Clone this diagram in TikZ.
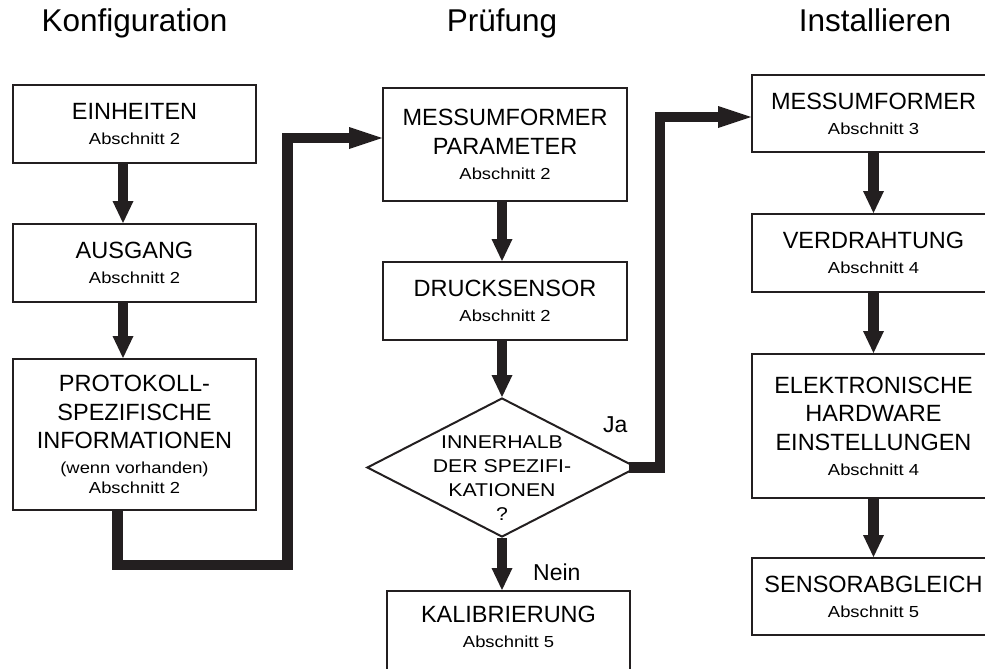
\documentclass[tikz,border=0pt]{standalone}
\usepackage{fontspec}
\setmainfont{Liberation Sans}
\newfontfamily\widesans[FakeStretch=1.15]{Liberation Sans}
\usetikzlibrary{arrows.meta,shapes.geometric}
\definecolor{ink}{HTML}{231F20}
\newcommand\subtxt{\widesans\fontsize{16}{20}\selectfont}
\begin{document}
\begin{tikzpicture}[x=1pt,y=-1pt,
  box/.style={draw=ink, line width=2pt, minimum width=243pt, inner sep=0pt, align=center,
    font=\fontsize{23.5}{28.5}\selectfont, text=black},
  txt/.style={inner sep=0pt, align=center, font=\fontsize{23.5}{28.5}\selectfont, text=black},
  flow/.style={draw=ink, line width=10.5pt},
  varrow/.style={flow, -{Triangle[length=22pt,width=21pt,line width=0pt]}},
  harrow/.style={flow, -{Triangle[length=33pt,width=22pt,line width=0pt]}},
  head/.style={font=\fontsize{31.5}{36}\selectfont, anchor=base, inner sep=0pt},
  lab/.style={font=\fontsize{23}{27}\selectfont, anchor=base west, inner sep=0pt}]
\useasboundingbox (0,0) rectangle (985,669);
% headers
\node[head] (h1) at (134.5,32) {Konfiguration};
\node[head] (h2) at (502,32) {Prüfung};
\node[head] (h3) at (875,32) {Installieren};
% left column
\node[box, minimum height=78pt] (E1) at (134.5,124) {EINHEITEN\\[-3.5pt]{\subtxt Abschnitt 2}};
\node[box, minimum height=78pt] (E2) at (134.5,263) {AUSGANG\\[-3.5pt]{\subtxt Abschnitt 2}};
\node[box, minimum height=151pt] (E3) at (134.5,434.5) {PROTOKOLL-\\SPEZIFISCHE\\INFORMATIONEN\\[-3.5pt]{\subtxt (wenn vorhanden)}\\[-8.5pt]{\subtxt Abschnitt 2}};
% middle column
\node[box, minimum width=244pt, minimum height=113pt] (P1) at (505,144.5) {MESSUMFORMER\\PARAMETER\\[-3.5pt]{\subtxt Abschnitt 2}};
\node[box, minimum width=244pt, minimum height=78pt] (P2) at (505,301) {DRUCKSENSOR\\[-3.5pt]{\subtxt Abschnitt 2}};
\node[draw=ink, line width=2pt, diamond, minimum width=270pt, minimum height=139pt, inner sep=0pt] (D) at (502,467.5) {};
\node[inner sep=0pt, align=center, font=\widesans\fontsize{18.5}{24}\selectfont] (DT) at (502,478) {INNERHALB\\DER SPEZIFI-\\KATIONEN\\?};
\node[box, minimum height=92pt, anchor=north] (K) at (508.5,590) {};
\node[txt] (KT) at (508.5,627) {KALIBRIERUNG\\[-3.5pt]{\subtxt Abschnitt 5}};
% right column
\node[box, minimum height=77pt] (I1) at (873.5,113.5) {MESSUMFORMER\\[-3.5pt]{\subtxt Abschnitt 3}};
\node[box, minimum height=78pt] (I2) at (873.5,253) {VERDRAHTUNG\\[-3.5pt]{\subtxt Abschnitt 4}};
\node[box, minimum height=144pt] (I3) at (873.5,426) {ELEKTRONISCHE\\HARDWARE\\EINSTELLUNGEN\\[-3.5pt]{\subtxt Abschnitt 4}};
\node[box, minimum height=77pt] (I4) at (873.5,596.5) {SENSORABGLEICH\\[-3.5pt]{\subtxt Abschnitt 5}};
% labels
\node[lab] (ja) at (603,432) {Ja};
\node[lab] (nein) at (533,580) {Nein};
% connectors
\coordinate (c2) at (287.5,565);
\coordinate (c3) at (660,467.5);
\draw[varrow] ([xshift=-11.5pt]E1.south) -- ([xshift=-11.5pt]E2.north);
\draw[varrow] ([xshift=-11.5pt]E2.south) -- ([xshift=-11.5pt]E3.north);
\draw[harrow] ([xshift=-17pt]E3.south) |- (c2) |- ([yshift=6.5pt]P1.west);
\draw[varrow] ([xshift=-3pt]P1.south) -- ([xshift=-3pt]P2.north);
\draw[varrow] ([xshift=-3pt]P2.south) -- (D.north);
\draw[varrow] (D.south) -- (D.south |- K.north);
\draw[harrow] ([xshift=-9pt]D.east) -- (c3) |- ([yshift=-3.5pt]I1.west);
\draw[varrow] (I1.south) -- (I2.north);
\draw[varrow] (I2.south) -- (I3.north);
\draw[varrow] (I3.south) -- (I4.north);
\end{tikzpicture}
\end{document}
